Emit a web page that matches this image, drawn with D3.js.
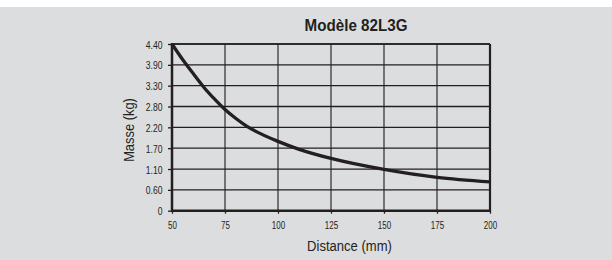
<!DOCTYPE html>
<html>
<head>
<meta charset="utf-8">
<script src="https://cdn.jsdelivr.net/npm/d3@7"></script>
<style>
  body { margin: 0; background: #fff; }
  svg text { font-family: "Liberation Sans", Arial, sans-serif; fill: #231f20; }
</style>
</head>
<body>
<div id="chart"></div>
<script>
// values
var distance = [50, 55, 60, 65, 70, 75, 80, 85, 90, 100, 110, 125, 150, 175, 200];
var masse = [4.40, 3.99, 3.62, 3.26, 2.95, 2.67, 2.44, 2.24, 2.08, 1.83, 1.62, 1.38, 1.09, 0.88, 0.76];

var xTicks = [50, 75, 100, 125, 150, 175, 200];
var yTicks = [0, 0.55, 1.1, 1.65, 2.2, 2.75, 3.3, 3.85, 4.4];
var yTickLabels = ["0", "0.60", "1.10", "1.70", "2.20", "2.80", "3.30", "3.90", "4.40"];

var width = 612, height = 260;
var pLeft = 172, pRight = 490, pTop = 44, pBottom = 210.7;

var svg = d3.select("#chart").append("svg")
  .attr("width", width)
  .attr("height", height);

// gray panel with white strip on top
svg.append("rect").attr("x", 0).attr("y", 7).attr("width", width).attr("height", height - 7).attr("fill", "#dcdddf");

var x = d3.scaleLinear().domain([50, 200]).range([pLeft, pRight]);
var y = d3.scaleLinear().domain([0, 4.4]).range([pBottom, pTop]);

// grid
svg.append("g").selectAll("line")
  .data(xTicks.slice(1, -1))
  .enter().append("line")
  .attr("x1", function(d){ return x(d); })
  .attr("x2", function(d){ return x(d); })
  .attr("y1", pTop).attr("y2", pBottom)
  .attr("stroke", "#58585a").attr("stroke-width", 1.6);

svg.append("g").selectAll("line")
  .data(yTicks.slice(1))
  .enter().append("line")
  .attr("x1", pLeft).attr("x2", pRight)
  .attr("y1", function(d){ return y(d); })
  .attr("y2", function(d){ return y(d); })
  .attr("stroke", "#231f20").attr("stroke-width", 1.3);

// axes
var yAxis = d3.axisLeft(y)
  .tickValues(yTicks)
  .tickSize(4)
  .tickFormat(function(d, i){ return yTickLabels[i]; });

var xAxis = d3.axisBottom(x)
  .tickValues(xTicks)
  .tickSize(3)
  .tickFormat(d3.format("d"));

var gy = svg.append("g").attr("transform", "translate(" + pLeft + ",0)").call(yAxis);
var gx = svg.append("g").attr("transform", "translate(0," + pBottom + ")").call(xAxis);

[gx, gy].forEach(function(g){
  g.select(".domain").remove();
  g.selectAll(".tick line").attr("stroke", "#231f20").attr("stroke-width", 1.3);
  g.selectAll(".tick text").attr("font-size", 10).attr("fill", "#231f20");
});
// squeeze the tick labels like a condensed face
gy.selectAll(".tick text").attr("x", null).attr("dy", "0.4em")
  .attr("transform", "translate(-9.5,0) scale(0.86,1)");
gx.selectAll(".tick text").attr("y", null).attr("dy", null)
  .attr("transform", "translate(0,18.5) scale(0.8,1)");

// frame
svg.append("line").attr("x1", pLeft).attr("x2", pRight).attr("y1", pTop).attr("y2", pTop)
  .attr("stroke", "#231f20").attr("stroke-width", 1.6);
svg.append("line").attr("x1", pRight).attr("x2", pRight).attr("y1", pTop).attr("y2", pBottom)
  .attr("stroke", "#231f20").attr("stroke-width", 2.2);
svg.append("line").attr("x1", pLeft).attr("x2", pLeft).attr("y1", pTop - 1).attr("y2", pBottom + 1)
  .attr("stroke", "#231f20").attr("stroke-width", 2.5);
svg.append("line").attr("x1", pLeft - 1).attr("x2", pRight + 1).attr("y1", pBottom).attr("y2", pBottom)
  .attr("stroke", "#231f20").attr("stroke-width", 2.5);

// curve
var line = d3.line()
  .x(function(d, i){ return x(distance[i]); })
  .y(function(d){ return y(d); })
  .curve(d3.curveMonotoneX);

svg.append("path")
  .datum(masse)
  .attr("d", line)
  .attr("fill", "none")
  .attr("stroke", "#231f20")
  .attr("stroke-width", 3.3)
  .attr("stroke-linejoin", "round");

// titles
svg.append("text")
  .attr("transform", "translate(356,30.5) scale(0.95,1)")
  .attr("text-anchor", "middle")
  .attr("font-size", 16).attr("font-weight", "bold")
  .text("Modèle 82L3G");

svg.append("text")
  .attr("transform", "translate(349.5,251) scale(0.87,1)")
  .attr("text-anchor", "middle")
  .attr("font-size", 15)
  .text("Distance (mm)");

svg.append("text")
  .attr("transform", "translate(134,130) rotate(-90) scale(0.86,1)")
  .attr("text-anchor", "middle")
  .attr("font-size", 15)
  .text("Masse (kg)");
</script>
</body>
</html>
